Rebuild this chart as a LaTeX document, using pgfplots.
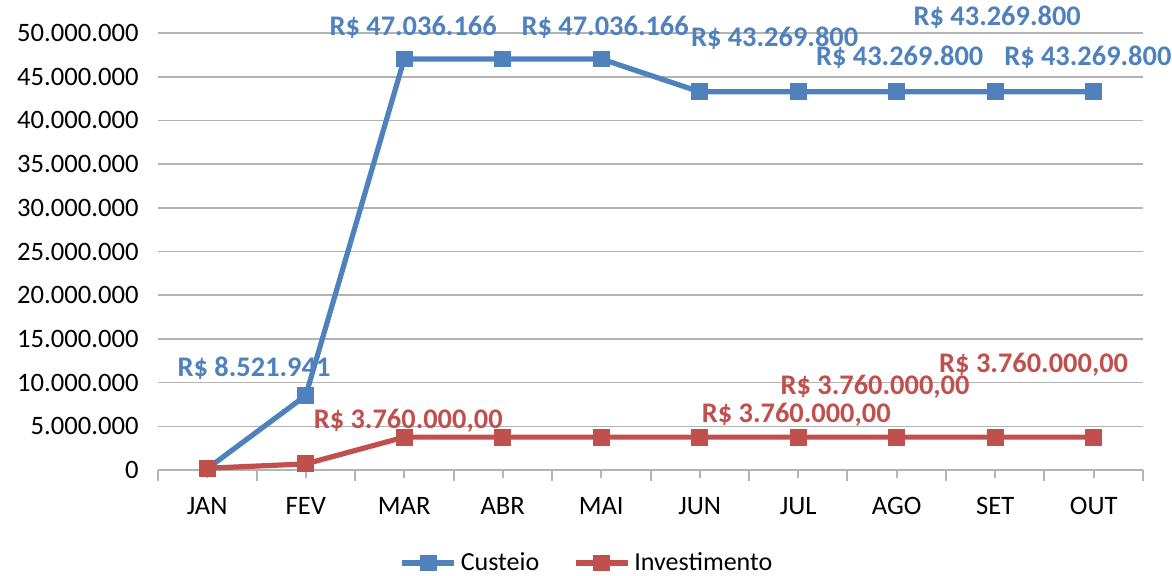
\documentclass[border=0pt]{standalone}
\usepackage{fontspec}
\setmainfont{Carlito}
\usepackage{pgfplots}
\pgfplotsset{compat=1.18}
\definecolor{cblue}{HTML}{4F81BD}
\definecolor{cred}{HTML}{C0504D}
\definecolor{cgrid}{HTML}{B3B3B3}
\pgfplotsset{
  legend image code/.code={%
    \draw[mark repeat=2,mark phase=2,#1] plot coordinates {(0pt,0pt) (13pt,0pt) (26pt,0pt)};
  }
}
\begin{document}
\begin{tikzpicture}
\path[use as bounding box] (0,0) rectangle (586pt,287.5pt);
\begin{axis}[
  at={(79pt,52.5pt)}, anchor=south west, scale only axis,
  width=492.5pt, height=218.5pt,
  xmin=-0.5, xmax=9.5, ymin=0, ymax=50000000,
  clip=false,
  axis lines*=left,
  y axis line style={draw=none},
  x axis line style={cgrid, line width=1pt},
  ytick={0,5000000,...,50000000},
  ytick style={draw=none},
  ymajorgrids, grid style={cgrid, line width=0.8pt},
  scaled y ticks=false,
  yticklabel={\pgfmathprintnumber[fixed,precision=0,1000 sep={.}]{\tick}},
  /pgf/number format/assume math mode=true,
  xtick={0,...,9},
  xticklabels={JAN,FEV,MAR,ABR,MAI,JUN,JUL,AGO,SET,OUT},
  xtick style={cgrid, line width=1pt},
  tick align=outside,
  major tick length=4pt,
  extra x ticks={-0.5,0.5,1.5,2.5,3.5,4.5,5.5,6.5,7.5,8.5,9.5},
  extra x tick labels={},
  extra x tick style={major tick length=5.5pt, tick style={cgrid, line width=1pt}},
  ticklabel style={font=\fontsize{13.3pt}{15pt}\selectfont, text=black},
  yticklabel style={anchor=east, xshift=-2.2pt},
  xticklabel style={anchor=base, yshift=-18pt},
  legend style={at={(0.4365,-0.213)}, anchor=center, draw=none, fill=none,
    legend columns=2, font=\fontsize{13pt}{15pt}\selectfont,
    /tikz/every even column/.append style={column sep=15pt},
    inner sep=0pt},
  legend cell align=left,
]
\addplot[cblue, line width=2.6pt, mark=square*, mark size=2.9pt,
  mark options={solid, rounded corners=1pt}]
  coordinates {(0,150000) (1,8521941) (2,47036166) (3,47036166) (4,47036166)
    (5,43269800) (6,43269800) (7,43269800) (8,43269800) (9,43269800)};
\addlegendentry{Custeio}
\addplot[cred, line width=2.6pt, mark=square*, mark size=2.9pt,
  mark options={solid, rounded corners=1pt}]
  coordinates {(0,200000) (1,700000) (2,3760000) (3,3760000) (4,3760000)
    (5,3760000) (6,3760000) (7,3760000) (8,3760000) (9,3760000)};
\addlegendentry{Investimento}
\begin{scope}[every node/.style={font=\bfseries\fontsize{14.2pt}{16pt}\selectfont, text=cblue, inner sep=0pt}]
\node at (axis cs:0.475,11700000) {R\$ 8.521.941};
\node at (axis cs:2.09,50700000) {R\$ 47.036.166};
\node at (axis cs:4.04,50700000) {R\$ 47.036.166};
\node at (axis cs:5.76,49400000) {R\$ 43.269.800};
\node at (axis cs:7.03,47200000) {R\$ 43.269.800};
\node at (axis cs:8.02,51800000) {R\$ 43.269.800};
\node at (axis cs:8.94,47200000) {R\$ 43.269.800};
\end{scope}
\begin{scope}[every node/.style={font=\bfseries\fontsize{14.2pt}{16pt}\selectfont, text=cred, inner sep=0pt}]
\node at (axis cs:2.04,5670000) {R\$ 3.760.000,00};
\node at (axis cs:5.98,6350000) {R\$ 3.760.000,00};
\node at (axis cs:6.78,9550000) {R\$ 3.760.000,00};
\node at (axis cs:8.39,12100000) {R\$ 3.760.000,00};
\end{scope}
\end{axis}
\end{tikzpicture}
\end{document}
